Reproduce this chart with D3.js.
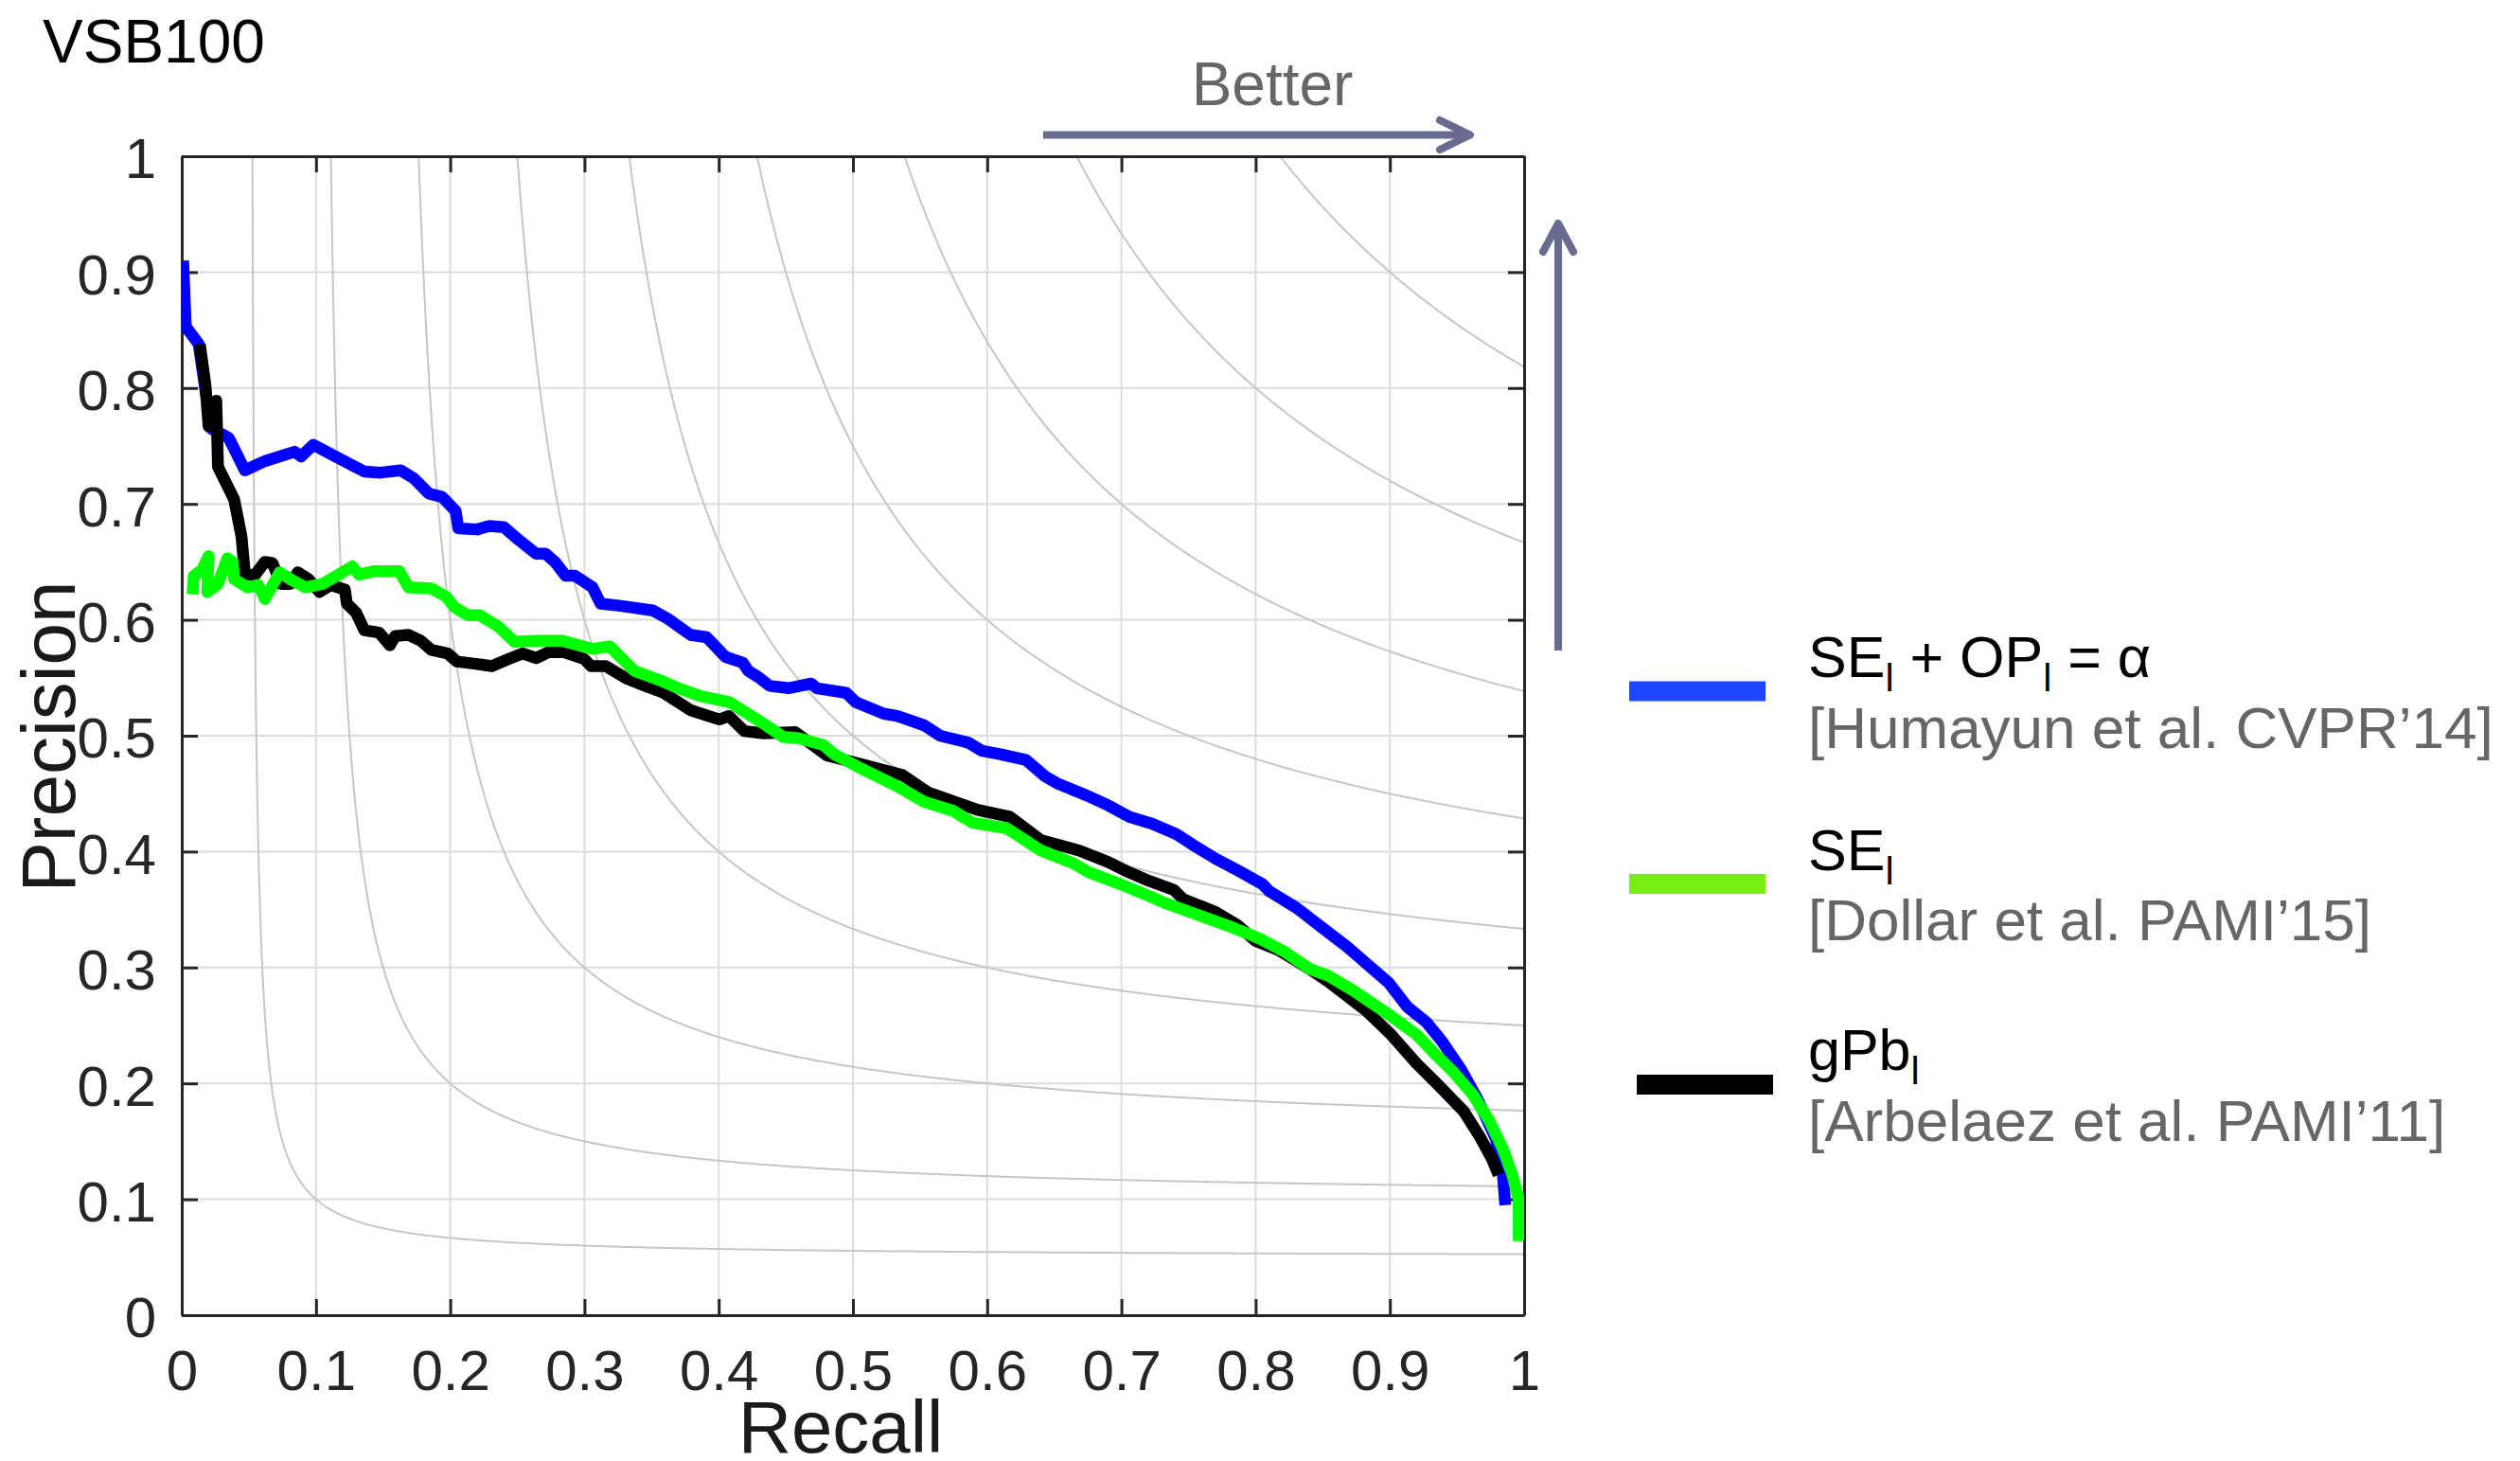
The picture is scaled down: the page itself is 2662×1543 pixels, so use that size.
<!DOCTYPE html>
<html>
<head>
<meta charset="utf-8">
<script src="https://cdn.jsdelivr.net/npm/d3@7"></script>
<style>
  html, body { margin: 0; padding: 0; background: #fff; }
  svg { display: block; font-family: "Liberation Sans", Arial, Helvetica, sans-serif; }
</style>
</head>
<body>
<svg id="chart" width="2662" height="1543"></svg>
<script>
// Tick values and labels (both axes share them)
const tickValues = [0, 0.1, 0.2, 0.3, 0.4, 0.5, 0.6, 0.7, 0.8, 0.9, 1];
const tickLabels = ["0", "0.1", "0.2", "0.3", "0.4", "0.5", "0.6", "0.7", "0.8", "0.9", "1"];

// Iso-F contour levels
const fLevels = [0.1, 0.2, 0.3, 0.4, 0.5, 0.6, 0.7, 0.8, 0.9];

// Precision/recall curves: [recall, precision]
const seOpCurve = [
  [0.001,0.910],[0.003,0.853],[0.0126,0.838],[0.018,0.795],[0.022,0.765],[0.035,0.757],[0.047,0.729],
  [0.062,0.737],[0.084,0.745],[0.089,0.741],[0.098,0.751],[0.116,0.740],[0.136,0.728],[0.148,0.727],
  [0.163,0.729],[0.173,0.722],[0.184,0.709],[0.194,0.706],[0.204,0.694],[0.206,0.679],[0.220,0.678],
  [0.229,0.681],[0.240,0.680],[0.251,0.669],[0.264,0.657],[0.271,0.657],[0.278,0.650],[0.286,0.638],
  [0.293,0.638],[0.306,0.628],[0.312,0.614],[0.327,0.612],[0.351,0.608],[0.362,0.601],[0.379,0.587],
  [0.391,0.585],[0.405,0.568],[0.418,0.563],[0.422,0.556],[0.429,0.551],[0.438,0.543],[0.452,0.541],
  [0.469,0.545],[0.473,0.541],[0.495,0.537],[0.502,0.529],[0.523,0.519],[0.533,0.517],[0.553,0.509],
  [0.565,0.500],[0.586,0.494],[0.596,0.487],[0.610,0.484],[0.629,0.479],[0.643,0.465],[0.652,0.459],
  [0.673,0.449],[0.690,0.440],[0.706,0.430],[0.723,0.424],[0.741,0.415],[0.753,0.406],[0.770,0.394],
  [0.788,0.383],[0.805,0.372],[0.810,0.366],[0.831,0.351],[0.850,0.334],[0.868,0.318],[0.882,0.304],
  [0.899,0.287],[0.913,0.266],[0.927,0.253],[0.939,0.236],[0.953,0.212],[0.965,0.187],[0.979,0.152],
  [0.984,0.124],[0.986,0.095]
];

const seCurve = [
  [0.008,0.622],[0.009,0.638],[0.015,0.643],[0.020,0.655],[0.019,0.624],[0.027,0.631],[0.034,0.653],
  [0.038,0.650],[0.039,0.635],[0.049,0.628],[0.057,0.630],[0.062,0.618],[0.073,0.641],[0.081,0.635],
  [0.092,0.628],[0.105,0.631],[0.127,0.646],[0.132,0.639],[0.144,0.642],[0.162,0.642],[0.169,0.628],
  [0.186,0.627],[0.197,0.620],[0.203,0.611],[0.213,0.604],[0.222,0.604],[0.236,0.594],[0.248,0.581],
  [0.264,0.582],[0.283,0.582],[0.306,0.575],[0.319,0.577],[0.337,0.556],[0.358,0.547],[0.370,0.541],
  [0.387,0.534],[0.408,0.529],[0.434,0.510],[0.448,0.499],[0.459,0.498],[0.478,0.492],[0.486,0.484],
  [0.504,0.473],[0.532,0.457],[0.553,0.443],[0.575,0.435],[0.589,0.425],[0.615,0.420],[0.640,0.401],
  [0.664,0.390],[0.676,0.382],[0.699,0.372],[0.716,0.364],[0.734,0.355],[0.751,0.348],[0.770,0.340],
  [0.784,0.334],[0.803,0.325],[0.821,0.314],[0.840,0.299],[0.854,0.293],[0.873,0.280],[0.887,0.269],
  [0.901,0.258],[0.920,0.242],[0.934,0.225],[0.948,0.209],[0.962,0.190],[0.974,0.168],[0.984,0.144],
  [0.991,0.122],[0.996,0.100],[0.996,0.064]
];

const gpbCurve = [
  [0.0134,0.838],[0.0176,0.803],[0.020,0.767],[0.0257,0.789],[0.027,0.732],[0.039,0.704],[0.0445,0.672],
  [0.047,0.640],[0.054,0.638],[0.062,0.650],[0.0675,0.649],[0.074,0.631],[0.081,0.631],[0.0865,0.641],
  [0.0945,0.635],[0.1026,0.624],[0.111,0.630],[0.1215,0.626],[0.123,0.614],[0.130,0.606],[0.136,0.591],
  [0.147,0.589],[0.155,0.578],[0.159,0.586],[0.169,0.587],[0.178,0.582],[0.186,0.574],[0.198,0.571],
  [0.205,0.564],[0.219,0.562],[0.231,0.560],[0.243,0.566],[0.254,0.571],[0.264,0.567],[0.273,0.572],
  [0.285,0.572],[0.300,0.566],[0.305,0.560],[0.316,0.560],[0.332,0.549],[0.343,0.544],[0.359,0.537],
  [0.379,0.522],[0.4005,0.514],[0.4076,0.517],[0.419,0.504],[0.4335,0.502],[0.457,0.503],[0.4805,0.483],
  [0.504,0.476],[0.537,0.466],[0.556,0.451],[0.593,0.436],[0.617,0.430],[0.640,0.410],[0.6685,0.401],
  [0.690,0.391],[0.704,0.383],[0.718,0.376],[0.739,0.367],[0.746,0.359],[0.770,0.348],[0.786,0.337],
  [0.800,0.323],[0.817,0.315],[0.840,0.299],[0.854,0.288],[0.882,0.263],[0.901,0.242],[0.920,0.217],
  [0.934,0.201],[0.955,0.176],[0.967,0.154],[0.976,0.135],[0.981,0.121]
];

// Legend entries: name segments [text, isSubscript], citation, colours
const seriesNames = [
  [["SE", false], ["l", true], [" + OP", false], ["l", true], [" = α", false]],
  [["SE", false], ["l", true]],
  [["gPb", false], ["l", true]]
];
const seriesCites = ["[Humayun et al. CVPR’14]", "[Dollar et al. PAMI’15]", "[Arbelaez et al. PAMI’11]"];
const lineColors = ["#0000ff", "#00ff00", "#000000"];
const legendColors = ["#1e48ff", "#76ee12", "#000000"];

// ---- layout ----
const svg = d3.select("#chart");
const plot = { left: 192, right: 1610, top: 165, bottom: 1389 };

const x = d3.scaleLinear().domain([0, 1]).range([plot.left, plot.right]);
const y = d3.scaleLinear().domain([0, 1]).range([plot.bottom, plot.top]);

svg.append("defs").append("clipPath").attr("id", "plotClip")
  .append("rect")
  .attr("x", plot.left).attr("y", plot.top)
  .attr("width", plot.right - plot.left).attr("height", plot.bottom - plot.top);

// grid
const grid = svg.append("g").attr("stroke", "#dcdcdc").attr("stroke-width", 2);
grid.selectAll("line.vx").data(tickValues.slice(1, -1)).join("line")
  .attr("x1", d => x(d)).attr("x2", d => x(d))
  .attr("y1", plot.top).attr("y2", plot.bottom);
grid.selectAll("line.hy").data(tickValues.slice(1, -1)).join("line")
  .attr("y1", d => y(d)).attr("y2", d => y(d))
  .attr("x1", plot.left).attr("x2", plot.right);

// iso-F contours: P = F R / (2R - F)
const isoG = svg.append("g").attr("clip-path", "url(#plotClip)");
const isoLine = d3.line().x(d => x(d[0])).y(d => y(d[1]));
fLevels.forEach(f => {
  const pts = [];
  const r0 = f / 2 + 1e-4;
  for (let i = 0; i <= 600; i++) {
    const r = r0 + (1 - r0) * Math.pow(i / 600, 2);
    const p = f * r / (2 * r - f);
    if (p <= 1.5) pts.push([r, p]);
  }
  isoG.append("path").attr("d", isoLine(pts))
    .attr("fill", "none").attr("stroke", "#c6c6c6").attr("stroke-width", 2);
});

// axes
const axisColor = "#262626";
function styleAxis(g) {
  g.select(".domain").attr("stroke", axisColor).attr("stroke-width", 3);
  g.selectAll(".tick line").attr("stroke", axisColor).attr("stroke-width", 3);
  g.selectAll(".tick text").attr("fill", axisColor)
    .style("font-family", "'Liberation Sans', Arial, Helvetica, sans-serif")
    .style("font-size", "60px");
}
const fmt = d => tickLabels[tickValues.indexOf(d)];

svg.append("g").attr("transform", `translate(0,${plot.bottom})`)
  .call(d3.axisBottom(x).tickValues(tickValues).tickFormat(fmt).tickSize(-17).tickSizeOuter(0).tickPadding(36))
  .call(styleAxis);
svg.append("g").attr("transform", `translate(${plot.left},0)`)
  .call(d3.axisLeft(y).tickValues(tickValues).tickFormat(fmt).tickSize(-17).tickSizeOuter(0).tickPadding(27))
  .call(styleAxis)
  .call(g => g.selectAll(".tick text").attr("dy", "0.38em"));
svg.append("g").attr("transform", `translate(0,${plot.top})`)
  .call(d3.axisTop(x).tickValues(tickValues).tickFormat("").tickSize(-17).tickSizeOuter(0))
  .call(styleAxis);
svg.append("g").attr("transform", `translate(${plot.right},0)`)
  .call(d3.axisRight(y).tickValues(tickValues).tickFormat("").tickSize(-17).tickSizeOuter(0))
  .call(styleAxis);

// curves (drawn blue, black, green so green sits on top)
const prLine = d3.line().x(d => x(d[0])).y(d => y(d[1]));
const curvesG = svg.append("g").attr("clip-path", "url(#plotClip)");
[[seOpCurve, lineColors[0]], [gpbCurve, lineColors[2]], [seCurve, lineColors[1]]].forEach(([data, color]) => {
  curvesG.append("path").attr("d", prLine(data))
    .attr("fill", "none").attr("stroke", color)
    .attr("stroke-width", 12.5).attr("stroke-linejoin", "round").attr("stroke-linecap", "butt");
});

// axis titles
svg.append("text").attr("x", 888).attr("y", 1534)
  .attr("text-anchor", "middle").attr("font-size", 78).attr("fill", "#1a1a1a").text("Recall");
svg.append("text").attr("transform", "translate(79,778) rotate(-90)")
  .attr("text-anchor", "middle").attr("font-size", 80).attr("fill", "#1a1a1a").text("Precision");

// title
svg.append("text").attr("x", 45).attr("y", 66)
  .attr("font-size", 64).attr("fill", "#000").text("VSB100");

// "Better" arrows
const arrowColor = "#676b8f";
svg.append("text").attr("x", 1344).attr("y", 111).attr("text-anchor", "middle")
  .attr("font-size", 64).attr("fill", "#666666").text("Better");
const arrows = svg.append("g").attr("fill", "none").attr("stroke", arrowColor)
  .attr("stroke-width", 8).attr("stroke-linecap", "round").attr("stroke-linejoin", "round");
arrows.append("line").attr("x1", 1102).attr("y1", 142.5).attr("x2", 1552).attr("y2", 142.5).attr("stroke-linecap", "butt");
arrows.append("path").attr("d", "M1521,127 L1553,142.5 L1521,158");
arrows.append("line").attr("x1", 1646).attr("y1", 687).attr("x2", 1646).attr("y2", 237).attr("stroke-linecap", "butt");
arrows.append("path").attr("d", "M1630,266 L1646,236 L1662,266");

// legend
const legendRows = [
  { lineY: 730, lineX: 1721, nameY: 715, citeY: 790 },
  { lineY: 933.5, lineX: 1721, nameY: 918.5, citeY: 992.5 },
  { lineY: 1145.5, lineX: 1729, nameY: 1130, citeY: 1204.5 }
];
const legend = svg.append("g");
legendRows.forEach((row, i) => {
  legend.append("line")
    .attr("x1", row.lineX).attr("x2", row.lineX + 144)
    .attr("y1", row.lineY).attr("y2", row.lineY)
    .attr("stroke", legendColors[i]).attr("stroke-width", 21);
  const t = legend.append("text").attr("x", 1910).attr("y", row.nameY)
    .attr("font-size", 61).attr("fill", "#000");
  let shifted = false;
  seriesNames[i].forEach(([txt, sub]) => {
    const ts = t.append("tspan").text(txt);
    if (sub) { ts.attr("dy", 15).attr("font-size", 41); shifted = true; }
    else if (shifted) { ts.attr("dy", -15); shifted = false; }
  });
  legend.append("text").attr("x", 1910).attr("y", row.citeY)
    .attr("font-size", 62).attr("fill", "#666666").text(seriesCites[i]);
});
</script>
</body>
</html>
